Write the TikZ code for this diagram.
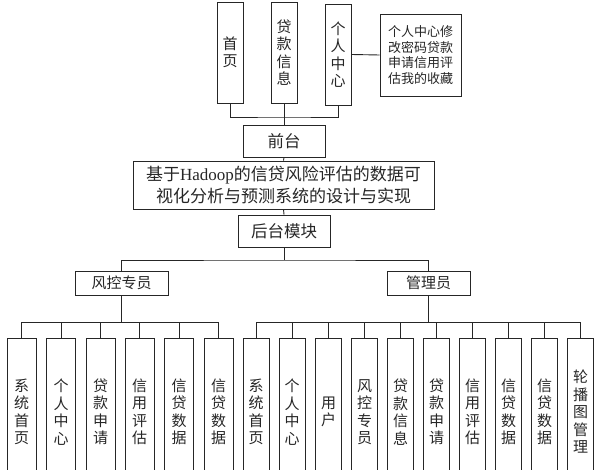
\documentclass[tikz,border=0pt]{standalone}
\usepackage{fontspec}
\setmainfont{Liberation Serif}
\newfontfamily\cjk{Noto Sans CJK SC}
\begin{document}
\begin{tikzpicture}[x=1pt,y=-1pt,
  box/.style={draw=black!85, line width=0.9pt, inner sep=0pt, align=center, text=black!85,
    font=\cjk\fontsize{15}{17.5}\selectfont},
  vtop/.style={box, minimum width=26pt, minimum height=101pt},
  vleft/.style={box, minimum width=29pt, minimum height=148pt},
  vright/.style={box, minimum width=26pt, minimum height=148pt},
  wire/.style={draw=black!85, line width=0.9pt}]
\useasboundingbox (0,0) rectangle (600,470);
\clip (0,0) rectangle (600,470);
% top
\node[vtop] (n1) at (230,52.5) {首\\页};
\node[vtop] (n2) at (284,52.5) {贷\\款\\信\\息};
\node[vtop] (n3) at (338,54.5) {个\\人\\中\\心};
\node[box, minimum width=81pt, minimum height=82pt, font=\cjk\fontsize{13}{15.5}\selectfont] (n4) at (420.5,55) {个人中心修\\改密码贷款\\申请信用评\\估我的收藏};
\node[box, minimum width=82pt, minimum height=32pt, font=\cjk\fontsize{16.5}{20}\selectfont] (qt) at (284,141) {前台};
\node[box, minimum width=301pt, minimum height=48pt, font=\cjk\fontsize{17}{22}\selectfont] (title) at (283.5,185) {基于{\rmfamily Hadoop}的信贷风险评估的数据可\\视化分析与预测系统的设计与实现};
\node[box, minimum width=92pt, minimum height=32pt, font=\cjk\fontsize{16.5}{20}\selectfont] (ht) at (284,231) {后台模块};
\node[box, minimum width=93pt, minimum height=24pt] (fk) at (121.5,283) {风控专员};
\node[box, minimum width=83pt, minimum height=24pt] (gl) at (428.5,283) {管理员};
% left children
\node[vleft] (l1) at (21.5,412) {系\\统\\首\\页};
\node[vleft] (l2) at (61,412) {个\\人\\中\\心};
\node[vleft] (l3) at (100.5,412) {贷\\款\\申\\请};
\node[vleft] (l4) at (139.5,412) {信\\用\\评\\估};
\node[vleft] (l5) at (179,412) {信\\贷\\数\\据};
\node[vleft] (l6) at (218.5,412) {信\\贷\\数\\据};
% right children
\node[vright] (r1) at (256,412) {系\\统\\首\\页};
\node[vright] (r2) at (292,412) {个\\人\\中\\心};
\node[vright] (r3) at (328.5,412) {用\\户};
\node[vright] (r4) at (364.5,412) {风\\控\\专\\员};
\node[vright] (r5) at (400.5,412) {贷\\款\\信\\息};
\node[vright] (r6) at (436.5,412) {贷\\款\\申\\请};
\node[vright] (r7) at (472.5,412) {信\\用\\评\\估};
\node[vright] (r8) at (508.5,412) {信\\贷\\数\\据};
\node[vright] (r9) at (544.5,412) {信\\贷\\数\\据};
\node[vright] (r10) at (580.5,412) {轮\\播\\图\\管\\理};
% connectors
\coordinate (tb) at (284,117);
\draw[wire] (n1.south) |- (tb) -| (n3.south);
\draw[wire] (n2.south) -- (qt.north);
\draw[wire] (n3.east) -- (n4.west);
\draw[wire] (qt.south) -- (title.north);
\draw[wire] (title.south) -- (ht.north);
\coordinate (mb) at (284,260);
\draw[wire] (ht.south) -- (mb);
\draw[wire] (fk.north) |- (mb) -| (gl.north);
\coordinate (lb) at (121.5,322);
\draw[wire] (fk.south) -- (lb);
\foreach \i in {1,...,6} {\draw[wire] (l\i.north) |- (lb);}
\coordinate (rb) at (428.5,322);
\draw[wire] (gl.south) -- (rb);
\foreach \i in {1,...,10} {\draw[wire] (r\i.north) |- (rb);}
\end{tikzpicture}
\end{document}
